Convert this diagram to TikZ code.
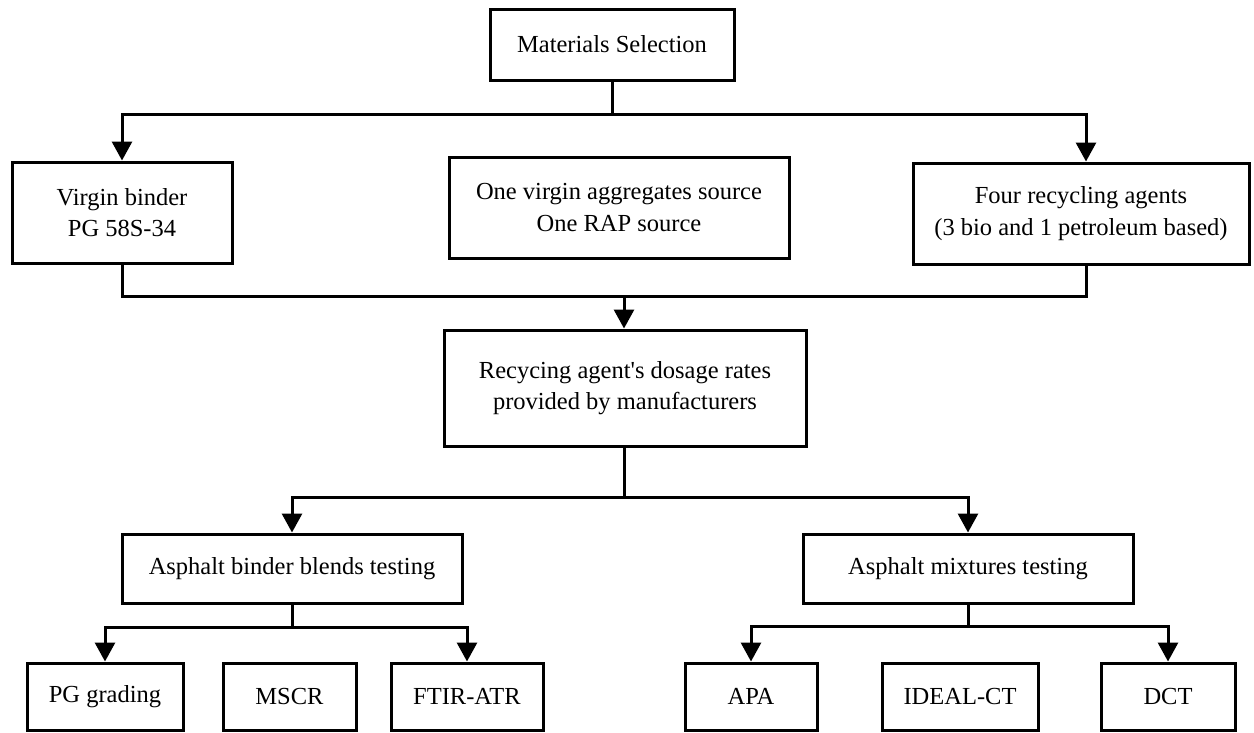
\documentclass[tikz,border=0pt]{standalone}
\usepackage{fontspec}
\setmainfont{Liberation Serif}
\usetikzlibrary{arrows.meta,calc}
\begin{document}
\begin{tikzpicture}[x=1pt,y=-1pt,
  box/.style={draw=black, line width=3pt, rectangle, inner sep=0pt, align=center,
    font=\fontsize{24.5}{31.5}\selectfont, text=black},
  conn/.style={draw=black, line width=3pt},
  arr/.style={conn, -{Triangle[width=20pt,length=19pt]}}
]
\useasboundingbox (0,0) rectangle (1254,732);
\fill[white] (0,0) rectangle (1254,732);

\node[box, minimum width=244pt, minimum height=71pt] (ms) at (612,44.5) {Materials Selection};
\node[box, minimum width=220pt, minimum height=101pt] (vb) at (122,212.5) {Virgin binder\\PG 58S-34};
\node[box, minimum width=340pt, minimum height=101pt] (agg) at (619,207.5) {One virgin aggregates source\\One RAP source};
\node[box, minimum width=336pt, minimum height=101pt] (ra) at (1081,213.5) {Four recycling agents\\(3 bio and 1 petroleum based)};
\node[box, minimum width=362pt, minimum height=116pt] (dos) at (625,388) {Recycing agent\textquotesingle s dosage rates\\provided by manufacturers};
\node[box, minimum width=340pt, minimum height=69pt] (abb) at (292,568.5) {Asphalt binder blends testing};
\node[box, minimum width=330pt, minimum height=69pt] (amt) at (968,568.5) {Asphalt mixtures testing};
\node[box, minimum width=156pt, minimum height=67pt] (pg) at (105,696.5) {PG grading};
\node[box, minimum width=133pt, minimum height=67pt] (mscr) at (289.5,696.5) {MSCR};
\node[box, minimum width=152pt, minimum height=67pt] (ftir) at (467,696.5) {FTIR-ATR};
\node[box, minimum width=132pt, minimum height=67pt] (apa) at (751,696.5) {APA};
\node[box, minimum width=156pt, minimum height=67pt] (ideal) at (960,696.5) {IDEAL-CT};
\node[box, minimum width=134pt, minimum height=67pt] (dct) at (1168,696.5) {DCT};

\coordinate (j1) at (612,114);
\coordinate (j2) at (624,296);
\coordinate (j3) at (624,497);
\coordinate (j4) at (292,627);
\coordinate (j5) at (968,626);

\draw[conn] (ms.south) -- (j1);
\draw[arr] (j1) -| (vb.north);
\draw[arr] (j1) -| ($(ra.north)+(5,0)$);

\draw[conn] (vb.south) |- (j2) -| ($(ra.south)+(5,0)$);
\draw[arr] (j2) -- (j2 |- dos.north);

\draw[conn] (dos.south -| j3) -- (j3);
\draw[arr] (j3) -| (abb.north);
\draw[arr] (j3) -| (amt.north);

\draw[conn] (abb.south) -- (j4);
\draw[arr] (j4) -| (pg.north);
\draw[arr] (j4) -| (ftir.north);

\draw[conn] (amt.south) -- (j5);
\draw[arr] (j5) -| (apa.north);
\draw[arr] (j5) -| (dct.north);
\end{tikzpicture}
\end{document}
